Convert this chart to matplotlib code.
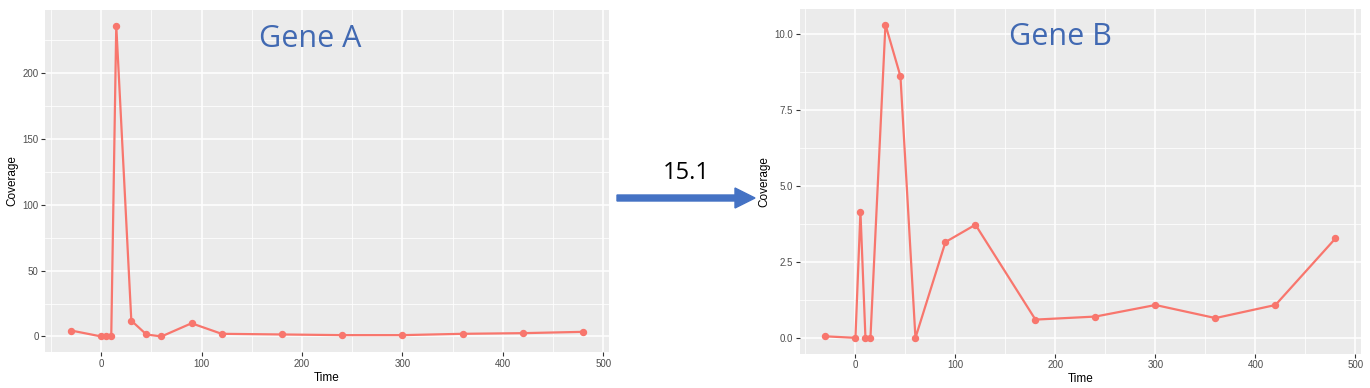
import matplotlib
matplotlib.use("Agg")
import matplotlib.pyplot as plt
from matplotlib.patches import FancyArrow

times = [-30, 0, 5, 10, 15, 30, 45, 60, 90, 120, 180, 240, 300, 360, 420, 480]
gene_a = [4.5, 0, 0, 0, 236, 12, 1.5, 0, 10, 2, 1.5, 1, 1, 2, 2.5, 3.5]
gene_b = [0.05, 0, 4.15, 0, 0, 10.3, 8.6, 0, 3.15, 3.72, 0.6, 0.7, 1.08, 0.65, 1.08, 3.27]

xticks = [0, 100, 200, 300, 400, 500]
xminor = [-50, 50, 150, 250, 350, 450]
yticks_a = [0, 50, 100, 150, 200]
yminor_a = [25, 75, 125, 175, 225]
yticks_b = [0.0, 2.5, 5.0, 7.5, 10.0]
yminor_b = [1.25, 3.75, 6.25, 8.75]
ylabels_b = ["0.0", "2.5", "5.0", "7.5", "10.0"]

plt.rcParams['font.family'] = ['Liberation Sans', 'DejaVu Sans']

fig = plt.figure(figsize=(13.7, 3.88), dpi=100)
fig.patch.set_facecolor('white')

LINE = '#F8766D'
BLUE = '#4169B2'


def style(ax, yt, ym, ylab, yl):
    ax.set_facecolor('#EBEBEB')
    for s in ax.spines.values():
        s.set_visible(False)
    ax.set_xticks(xticks)
    ax.set_xticks(xminor, minor=True)
    ax.set_yticks(yt)
    ax.set_yticks(ym, minor=True)
    if ylab is not None:
        ax.set_yticklabels(ylab)
    ax.grid(which='major', color='white', linewidth=1.1)
    ax.grid(which='minor', color='white', linewidth=0.55)
    ax.set_axisbelow(True)
    ax.tick_params(which='major', length=3, width=0.8, color='#333333',
                   labelsize=7, labelcolor='#4D4D4D', pad=2)
    ax.tick_params(which='minor', length=0)
    ax.set_xlabel('Time', fontsize=8.5, labelpad=2)
    ax.set_ylabel('Coverage', fontsize=8.5, labelpad=3)
    ax.set_xlim(-55.5, 505.5)
    ax.set_ylim(*yl)


ax1 = fig.add_axes([0.0332, 0.0928, 0.4111, 0.8814])
ax1.plot(times, gene_a, color=LINE, linewidth=1.6, marker='o', markersize=4.3)
style(ax1, yticks_a, yminor_a, None, (-11.8, 247.8))
ax1.text(0.47, 0.915, 'Gene A', transform=ax1.transAxes, ha='center', va='center',
         fontsize=22, color=BLUE, family=['Open Sans', 'DejaVu Sans'])

ax2 = fig.add_axes([0.5839, 0.0889, 0.4095, 0.888])
ax2.plot(times, gene_b, color=LINE, linewidth=1.6, marker='o', markersize=4.3)
style(ax2, yticks_b, yminor_b, ylabels_b, (-0.515, 10.815))
ax2.text(0.465, 0.92, 'Gene B', transform=ax2.transAxes, ha='center', va='center',
         fontsize=22, color=BLUE, family=['Open Sans', 'DejaVu Sans'])

# arrow between panels (figure pixel coordinates converted to fractions)
W, H = 1370.0, 388.0
x0, x1, yc = 617 / W, 755 / W, (388 - 198) / H
arrow = FancyArrow(x0, yc, x1 - x0, 0, width=6 / H, head_width=20 / H,
                   head_length=20 / W, length_includes_head=True,
                   color='#4472C4', transform=fig.transFigure, figure=fig)
fig.patches.append(arrow)
fig.text(686 / W, (388 - 173) / H, '15.1', ha='center', va='center', fontsize=17,
         color='black', family=['Open Sans', 'DejaVu Sans'])

fig.savefig('out.png', dpi=100, facecolor='white')
